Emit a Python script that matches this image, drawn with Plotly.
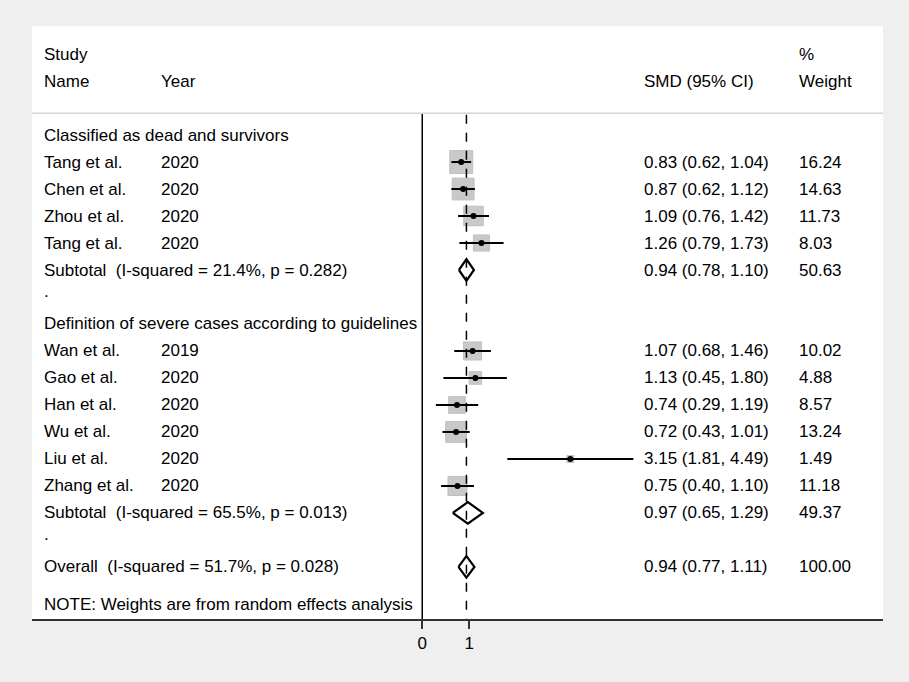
import plotly.graph_objects as go

# study level data
studies = ["Tang et al.", "Chen et al.", "Zhou et al.", "Tang et al.",
           "Wan et al.", "Gao et al.", "Han et al.", "Wu et al.", "Liu et al.", "Zhang et al."]
years = ["2020", "2020", "2020", "2020", "2019", "2020", "2020", "2020", "2020", "2020"]
smd = [0.83, 0.87, 1.09, 1.26, 1.07, 1.13, 0.74, 0.72, 3.15, 0.75]
ci_lo = [0.62, 0.62, 0.76, 0.79, 0.68, 0.45, 0.29, 0.43, 1.81, 0.40]
ci_hi = [1.04, 1.12, 1.42, 1.73, 1.46, 1.80, 1.19, 1.01, 4.49, 1.10]
weights = ["16.24", "14.63", "11.73", "8.03", "10.02", "4.88", "8.57", "13.24", "1.49", "11.18"]
study_rows = [1, 2, 3, 4, 8, 9, 10, 11, 12, 13]

# pooled estimates
pooled_labels = ["Subtotal\u00a0 (I-squared = 21.4%, p = 0.282)",
                 "Subtotal\u00a0 (I-squared = 65.5%, p = 0.013)",
                 "Overall\u00a0 (I-squared = 51.7%, p = 0.028)"]
pooled_smd = [0.94, 0.97, 0.94]
pooled_lo = [0.78, 0.65, 0.77]
pooled_hi = [1.10, 1.29, 1.11]
pooled_weights = ["50.63", "49.37", "100.00"]
pooled_rows = [5, 14, 16]

group_labels = ["Classified as dead and survivors",
                "Definition of severe cases according to guidelines"]
group_rows = [0, 7]
dot_rows = [6, 15]

FONT = "Liberation Sans, Arial, sans-serif"
FS = 17
COL_NAME, COL_YEAR, COL_CI, COL_W = 0.012, 0.149, 0.717, 0.899

fig = go.Figure()

# vertical reference lines
fig.add_shape(type="line", x0=0, x1=0, y0=-0.81, y1=17.93, line=dict(color="black", width=1.5))
fig.add_shape(type="line", x0=pooled_smd[2], x1=pooled_smd[2], y0=-0.75, y1=17.93,
              line=dict(color="black", width=1.5, dash="dash"))
# header separator
fig.add_shape(type="line", xref="paper", x0=0, x1=1, y0=-0.81, y1=-0.81,
              line=dict(color="#d4d4d4", width=1.5))

# weight boxes
fig.add_trace(go.Scatter(
    x=smd, y=study_rows, mode="markers",
    marker=dict(symbol="square", size=[5.7 * float(w) ** 0.5 for w in weights],
                color="#b3b3b3", line=dict(color="#a6a6a6", width=1)),
    hoverinfo="skip"))

# confidence intervals and point estimates
fig.add_trace(go.Scatter(
    x=smd, y=study_rows, mode="markers",
    marker=dict(symbol="circle", size=6, color="black"),
    error_x=dict(type="data", symmetric=False,
                 array=[h - m for h, m in zip(ci_hi, smd)],
                 arrayminus=[m - l for m, l in zip(smd, ci_lo)],
                 width=0, thickness=2, color="black"),
    hoverinfo="skip"))

# diamonds
for m, lo, hi, r in zip(pooled_smd, pooled_lo, pooled_hi, pooled_rows):
    fig.add_trace(go.Scatter(
        x=[lo, m, hi, m, lo], y=[r, r - 0.4, r, r + 0.4, r], mode="lines",
        line=dict(color="black", width=2.2), fill="toself", fillcolor="rgba(255,255,255,0)",
        hoverinfo="skip"))

# text columns
def txt(x, y, s):
    fig.add_annotation(x=x, y=y, xref="paper", yref="y", text=s, showarrow=False,
                       xanchor="left", yanchor="middle", font=dict(family=FONT, size=FS, color="black"))

txt(COL_NAME, -3, "Study")
txt(COL_NAME, -2, "Name")
txt(COL_YEAR, -2, "Year")
txt(COL_CI, -2, "SMD (95% CI)")
txt(COL_W, -3, "%")
txt(COL_W, -2, "Weight")

for g, r in zip(group_labels, group_rows):
    txt(COL_NAME, r, g)
for r in dot_rows:
    txt(COL_NAME, r - 0.2, ".")

for s, yr, m, lo, hi, w, r in zip(studies, years, smd, ci_lo, ci_hi, weights, study_rows):
    txt(COL_NAME, r, s)
    txt(COL_YEAR, r, yr)
    txt(COL_CI, r, f"{m:.2f} ({lo:.2f}, {hi:.2f})")
    txt(COL_W, r, w)

for s, m, lo, hi, w, r in zip(pooled_labels, pooled_smd, pooled_lo, pooled_hi, pooled_weights, pooled_rows):
    txt(COL_NAME, r, s)
    txt(COL_CI, r, f"{m:.2f} ({lo:.2f}, {hi:.2f})")
    txt(COL_W, r, w)

txt(COL_NAME, 17.4, "NOTE: Weights are from random effects analysis")

fig.update_layout(
    width=909, height=682,
    margin=dict(l=32, r=26, t=26, b=63),
    paper_bgcolor="#efefef", plot_bgcolor="white",
    showlegend=False,
    font=dict(family=FONT, size=FS, color="black"),
    xaxis=dict(range=[-8.30, 9.80], tickvals=[0, 1], ticktext=["0", "1"],
               showgrid=False, zeroline=False, showline=True, linecolor="#333333", linewidth=2,
               ticks="outside", ticklen=8, tickwidth=2, tickcolor="#333333",
               tickfont=dict(family=FONT, size=FS, color="black")),
    yaxis=dict(range=[17.93, -4.04], showgrid=False, zeroline=False, showticklabels=False,
               showline=False),
)

# drop the page's default body margin so the grey frame reaches the window edges
fig.write_html("out.html", config={"displayModeBar": False},
               post_script="document.body.style.margin='0';"
                           "document.body.style.background='#efefef';")
